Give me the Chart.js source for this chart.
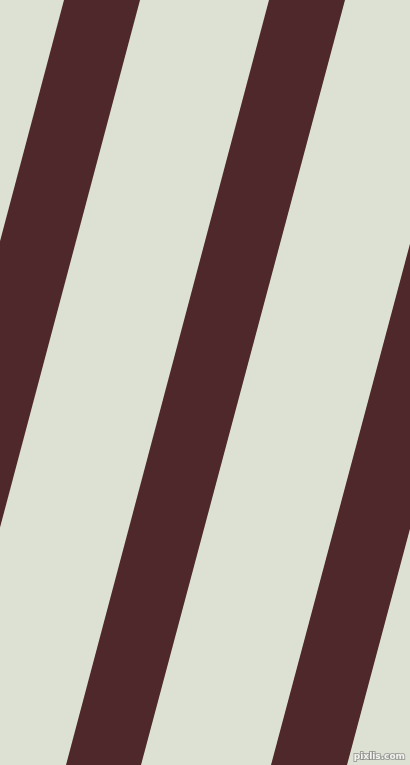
<!DOCTYPE html>
<html>
<head>
<meta charset="utf-8">
<script src="https://cdn.jsdelivr.net/npm/chart.js@4/dist/chart.umd.min.js"></script>
<style>
  html, body { margin: 0; padding: 0; background: #dce1d3; }
  #wrap { position: relative; width: 410px; height: 765px; }
</style>
</head>
<body>
<div id="wrap"><canvas id="myChart"></canvas></div>
<script>
// stripe edges, x value where each edge meets the top (y=0) and the bottom (y=765)
var leftTop = [64, 269, 475];
var leftBottom = [-139, 66, 271];
var rightTop = [140, 345, 551];
var rightBottom = [-63, 141, 347];
var yRange = [0, 765];

var bg = '#dce1d3';
var stripe = '#4e282a';

var datasets = [];
for (var i = 0; i < leftTop.length; i++) {
    datasets.push({
        data: [{x: leftTop[i], y: yRange[0]}, {x: leftBottom[i], y: yRange[1]}],
        fill: '+1',
        backgroundColor: stripe,
        borderWidth: 0,
        pointRadius: 0
    });
    datasets.push({
        data: [{x: rightTop[i], y: yRange[0]}, {x: rightBottom[i], y: yRange[1]}],
        fill: false,
        backgroundColor: stripe,
        borderWidth: 0,
        pointRadius: 0
    });
}

var watermark = {
    id: 'watermark',
    afterDraw: function(chart) {
        var ctx = chart.ctx;
        ctx.save();
        ctx.font = 'bold 9px "DejaVu Sans"';
        ctx.textAlign = 'right';
        ctx.textBaseline = 'bottom';
        ctx.lineWidth = 2;
        ctx.strokeStyle = 'rgba(120,120,120,0.6)';
        ctx.fillStyle = '#f4f4f0';
        ctx.strokeText('pixlis.com', 405, 761);
        ctx.fillText('pixlis.com', 405, 761);
        ctx.restore();
    }
};

var myChart = new Chart(document.getElementById('myChart'), {
    type: 'line',
    data: { datasets: datasets },
    options: {
        indexAxis: 'y',
        responsive: true,
        maintainAspectRatio: false,
        animation: false,
        layout: { padding: 0 },
        elements: { line: { tension: 0 } },
        scales: {
            x: { type: 'linear', min: 0, max: 410, display: false },
            y: { type: 'linear', min: yRange[0], max: yRange[1], reverse: true, display: false }
        },
        plugins: {
            legend: { display: false },
            tooltip: { enabled: false }
        }
    },
    plugins: [watermark]
});
</script>
</body>
</html>
